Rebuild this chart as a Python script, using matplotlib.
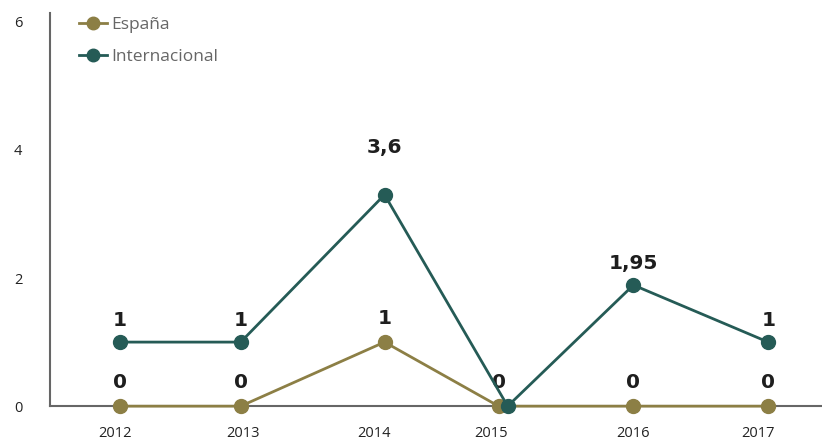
import matplotlib.pyplot as plt
from matplotlib.lines import Line2D

years = ['2012', '2013', '2014', '2015', '2016', '2017']
# positions of the points along the year axis (the source draws them a bit off the ticks)
pos_espana = [0.04, 0.97, 2.08, 2.96, 4.0, 5.04]
pos_inter = [0.04, 0.97, 2.08, 3.03, 4.0, 5.04]
tick_pos = [0.0, 0.99, 2.0, 2.9, 4.0, 4.96]

espana = [0, 0, 1, 0, 0, 0]
internacional = [1, 1, 3.3, 0, 1.89, 1]
labels_espana = ['0', '0', '1', '0', '0', '0']
labels_inter = ['1', '1', '3,6', '', '1,95', '1']
inter_label_gap = [22, 22, 47, 22, 22, 22]

col_es = '#8c7f45'
col_in = '#255b56'

fig = plt.figure(figsize=(8.22, 4.41), dpi=100)
ax = fig.add_axes([0.061, 0.079, 0.939, 0.892])

ax.plot(pos_espana, espana, color=col_es, lw=2, marker='o', ms=10, zorder=3, clip_on=False)
ax.plot(pos_inter, internacional, color=col_in, lw=2, marker='o', ms=10, zorder=4, clip_on=False)

for x, y, t in zip(pos_espana, espana, labels_espana):
    ax.annotate(t, (x, y), xytext=(0, 24), textcoords='offset pixels',
                ha='center', va='center', fontsize=14.5, fontweight='bold', color='#1e1e1e')
for x, y, t, g in zip(pos_inter, internacional, labels_inter, inter_label_gap):
    ax.annotate(t, (x, y), xytext=(0, g), textcoords='offset pixels',
                ha='center', va='center', fontsize=14.5, fontweight='bold', color='#1e1e1e')

ax.set_xlim(-0.5, 5.455)
ax.set_ylim(0, 6.14)
ax.set_xticks(tick_pos)
ax.set_xticklabels(years, family='Open Sans', fontsize=10.5, color='#222222')
ax.set_yticks([0, 2, 4, 6])
ax.set_yticklabels(['0', '2', '4', '6'], family='Open Sans', fontsize=10.5, color='#222222')
ax.tick_params(length=0)
ax.tick_params(axis='x', pad=14)
ax.tick_params(axis='y', pad=20)
for lab in ax.get_yticklabels():
    lab.set_verticalalignment('center_baseline')

for s in ['top', 'right']:
    ax.spines[s].set_visible(False)
ax.spines['left'].set_color('#666666')
ax.spines['bottom'].set_color('#666666')
ax.spines['left'].set_linewidth(1.5)
ax.spines['bottom'].set_linewidth(1.5)

handles = [Line2D([], [], color=col_es, lw=2, marker='o', ms=9),
           Line2D([], [], color=col_in, lw=2, marker='o', ms=9)]
leg = fig.legend(handles, ['España', 'Internacional'], loc='upper left',
                 bbox_to_anchor=(0.077, 0.998), frameon=False, handlelength=1.6,
                 handletextpad=0.25, labelspacing=0.95,
                 prop={'family': 'Open Sans', 'size': 12.5})
for t in leg.get_texts():
    t.set_color('#666666')

fig.savefig('out.png', dpi=100)
